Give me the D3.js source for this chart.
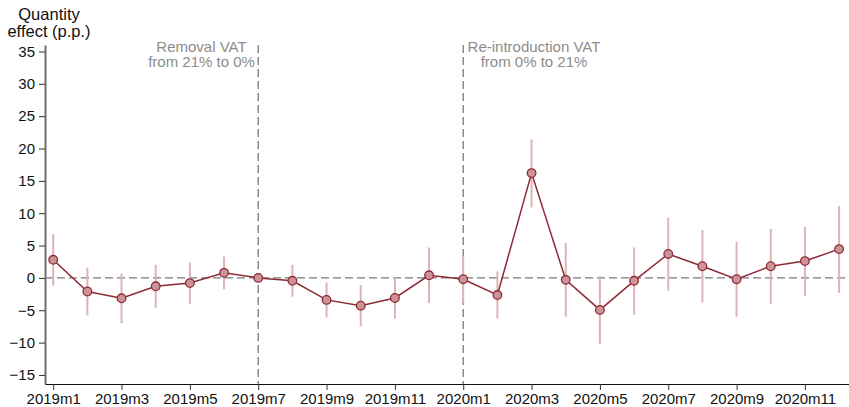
<!DOCTYPE html>
<html>
<head>
<meta charset="utf-8">
<script src="https://cdn.jsdelivr.net/npm/d3@7"></script>
<style>
  html, body { margin: 0; padding: 0; background: #fff; }
  svg { display: block; font-family: "Liberation Sans", Arial, sans-serif; }
</style>
</head>
<body>
<svg id="chart" width="849" height="407"></svg>
<script>
// Monthly periods
const months = ["2019m1","2019m2","2019m3","2019m4","2019m5","2019m6","2019m7","2019m8","2019m9","2019m10","2019m11","2019m12",
                "2020m1","2020m2","2020m3","2020m4","2020m5","2020m6","2020m7","2020m8","2020m9","2020m10","2020m11","2020m12"];
// Point estimates (p.p.)
const estimate = [2.8, -2.1, -3.15, -1.3, -0.8, 0.78, 0.0, -0.45, -3.4, -4.3, -3.1, 0.4,
                  -0.2, -2.65, 16.2, -0.3, -4.95, -0.45, 3.7, 1.8, -0.2, 1.8, 2.6, 4.45];
// 95% confidence interval bounds
const ciLow  = [-1.2, -5.8, -7.0, -4.6, -4.0, -1.75, null, -2.9, -6.1, -7.5, -6.3, -3.9,
                -3.9, -6.3, 10.9, -6.0, -10.2, -5.7, -2.0, -3.8, -6.0, -4.0, -2.8, -2.3];
const ciHigh = [6.8, 1.6, 0.7, 2.0, 2.4, 3.3, null, 2.0, -0.7, -1.1, 0.1, 4.7,
                3.4, 1.0, 21.4, 5.4, 0.3, 4.7, 9.3, 7.4, 5.6, 7.6, 7.9, 11.1];
// Axis ticks
const yTicks = [-15, -10, -5, 0, 5, 10, 15, 20, 25, 30, 35];
const xTickLabels = ["2019m1","2019m3","2019m5","2019m7","2019m9","2019m11","2020m1","2020m3","2020m5","2020m7","2020m9","2020m11"];
// Policy events
const events = [
  { month: "2019m7", lines: ["Removal VAT", "from 21% to 0%"], center: 201.5 },
  { month: "2020m1", lines: ["Re-introduction VAT", "from 0% to 21%"], center: 534 }
];

const svg = d3.select("#chart");
const plotLeft = 45, plotRight = 849, plotTop = 45, plotBottom = 384;

const x = d3.scaleLinear().domain([-0.24, 23.29]).range([plotLeft, plotRight]);
const y = d3.scaleLinear().domain([-16.4, 36.0]).range([plotBottom, plotTop]);
const xi = m => months.indexOf(m);

// Zero reference line
svg.append("line")
  .attr("x1", plotLeft).attr("x2", plotRight)
  .attr("y1", y(0)).attr("y2", y(0))
  .attr("stroke", "#7a7a7a").attr("stroke-width", 1.3)
  .attr("stroke-dasharray", "8,4");

// Event lines
svg.selectAll("line.event").data(events).join("line")
  .attr("class", "event")
  .attr("x1", d => x(xi(d.month))).attr("x2", d => x(xi(d.month)))
  .attr("y1", plotTop).attr("y2", plotBottom)
  .attr("stroke", "#7a7a7a").attr("stroke-width", 1.3)
  .attr("stroke-dasharray", "8,4");

// Event annotations
events.forEach(ev => {
  const t = svg.append("text")
    .attr("x", ev.center).attr("y", 52)
    .attr("text-anchor", "middle")
    .attr("fill", "#8c8c8c")
    .attr("font-size", 15);
  ev.lines.forEach((l, i) => {
    t.append("tspan").attr("x", ev.center).attr("dy", i === 0 ? 0 : 14.5).text(l);
  });
});

// Confidence intervals
const ci = months.map((m, i) => ({ i, lo: ciLow[i], hi: ciHigh[i] })).filter(d => d.lo !== null);
svg.selectAll("line.ci").data(ci).join("line")
  .attr("class", "ci")
  .attr("x1", d => x(d.i)).attr("x2", d => x(d.i))
  .attr("y1", d => y(d.lo)).attr("y2", d => y(d.hi))
  .attr("stroke", "#dcb4b8").attr("stroke-width", 2);

// Estimate line
svg.append("path")
  .datum(estimate)
  .attr("fill", "none")
  .attr("stroke", "#8e2a35").attr("stroke-width", 1.5)
  .attr("d", d3.line().x((d, i) => x(i)).y(d => y(d)));

// Markers
svg.selectAll("circle.pt").data(estimate).join("circle")
  .attr("class", "pt")
  .attr("cx", (d, i) => x(i)).attr("cy", d => y(d))
  .attr("r", 4.3)
  .attr("fill", "#cc9499").attr("stroke", "#8e2a35").attr("stroke-width", 1.3);

// Y axis
const yAxis = svg.append("g")
  .attr("transform", `translate(${plotLeft},0)`)
  .call(d3.axisLeft(y).tickValues(yTicks).tickSize(6).tickPadding(4).tickSizeOuter(0));
yAxis.select(".domain").attr("stroke", "#6e6e6e").attr("stroke-width", 2);
yAxis.selectAll(".tick line").attr("stroke", "#333");
yAxis.selectAll(".tick text").attr("font-size", 15).attr("fill", "#111")
  .attr("font-family", "Liberation Sans, Arial, sans-serif");

// X axis
const xAxis = svg.append("g")
  .attr("transform", `translate(0,${plotBottom})`)
  .call(d3.axisBottom(x).tickValues(xTickLabels.map(xi)).tickFormat(i => months[i])
    .tickSize(6).tickPadding(3).tickSizeOuter(0));
xAxis.select(".domain").attr("stroke", "#111").attr("stroke-width", 1.2);
xAxis.selectAll(".tick line").attr("stroke", "#333");
xAxis.selectAll(".tick text").attr("font-size", 15).attr("fill", "#111")
  .attr("font-family", "Liberation Sans, Arial, sans-serif");

// Y axis title
svg.append("text")
  .attr("x", 49).attr("y", 20)
  .attr("text-anchor", "middle")
  .attr("font-size", 16.5).attr("fill", "#111")
  .selectAll("tspan").data(["Quantity", "effect (p.p.)"]).join("tspan")
  .attr("x", 49).attr("dy", (d, i) => i === 0 ? 0 : 17).text(d => d);
</script>
</body>
</html>
